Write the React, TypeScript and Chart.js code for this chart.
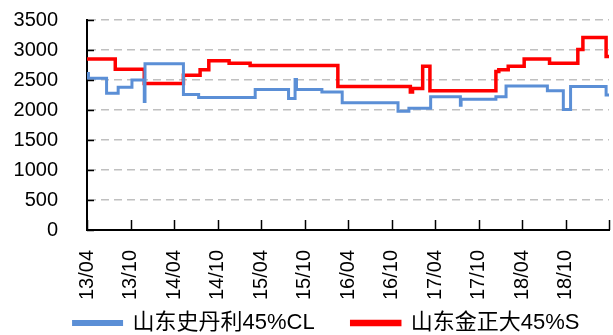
import React, { useEffect, useRef } from 'react';
import { Chart, registerables } from 'chart.js';

Chart.register(...registerables);

// x tick labels, one every 6 months starting at 2013-04
const xTickLabels = ['13/04', '13/10', '14/04', '14/10', '15/04', '15/10', '16/04', '16/10', '17/04', '17/10', '18/04', '18/10'];
const seriesNames = ['山东史丹利45%CL', '山东金正大45%S'];

// months since 2013-04 at which each price level starts (step line)
const blueMonths = [0, 0.2, 2.7, 4.3, 6.2, 7.9, 8.0, 13.3, 15.4, 23.2, 27.8, 28.7, 28.9, 32.4, 35.2, 42.9, 44.4, 47.4, 51.5, 51.6, 56.4, 57.8, 63.5, 65.7, 66.7, 71.6, 72];
const blueValues = [2610, 2530, 2280, 2380, 2500, 2140, 2770, 2260, 2210, 2340, 2190, 2510, 2340, 2300, 2120, 1980, 2030, 2220, 2080, 2180, 2220, 2400, 2320, 2010, 2390, 2250, 2250];

const redMonths = [0, 3.9, 7.9, 13.3, 15.6, 16.8, 19.6, 22.5, 34.6, 44.6, 44.9, 46.3, 47.3, 56.4, 56.8, 58.1, 60.3, 63.8, 67.7, 68.4, 71.6, 72];
const redValues = [2850, 2680, 2440, 2580, 2670, 2820, 2780, 2740, 2390, 2300, 2360, 2730, 2320, 2640, 2670, 2730, 2850, 2780, 3010, 3210, 2890, 2890];

const yMin = 0;
const yMax = 3500;
const yStep = 500;
const xMax = 72;
const xStep = 6;

const FONT = "'Liberation Sans', 'Noto Sans CJK SC', sans-serif";

// short tick marks drawn inside the plot, on both axes
const innerTicks = {
  id: 'innerTicks',
  afterDraw(chart: any) {
    const sx = chart.scales.x;
    const sy = chart.scales.y;
    const ctx = chart.ctx;
    const { bottom, left } = chart.chartArea;
    ctx.save();
    ctx.strokeStyle = '#000';
    ctx.lineWidth = 1.5;
    sx.ticks.forEach((t: any) => {
      const px = Math.round(sx.getPixelForValue(t.value)) + 0.5;
      ctx.beginPath();
      ctx.moveTo(px, bottom);
      ctx.lineTo(px, bottom - 10);
      ctx.stroke();
    });
    sy.ticks.forEach((t: any) => {
      const py = Math.round(sy.getPixelForValue(t.value)) + 0.5;
      ctx.beginPath();
      ctx.moveTo(left, py);
      ctx.lineTo(left + 7, py);
      ctx.stroke();
    });
    ctx.restore();
  },
};

// let the legend row sit lower (overlapping the empty lower part of the x-label band) and a bit to the right
const legendShift = {
  id: 'legendShift',
  afterLayout(chart: any) {
    const lg = chart.legend;
    if (lg) {
      lg.top = lg.bottom - 60;
      lg.height = 60;
      lg.left = lg.left + 36;
      lg.right = lg.right + 8;
      lg.width = lg.right - lg.left;
    }
  },
};

export default function App() {
  const ref = useRef<HTMLCanvasElement | null>(null);
  useEffect(() => {
    if (!ref.current) return;
    const toPts = (xs: number[], ys: number[]) => xs.map((x, i) => ({ x, y: ys[i] }));
    const chart = new Chart(ref.current, {
      type: 'line',
      data: {
        datasets: [
          {
            label: seriesNames[0],
            data: toPts(blueMonths, blueValues),
            borderColor: '#5B8FD6',
            backgroundColor: '#5B8FD6',
            borderWidth: 3,
            pointRadius: 0,
            stepped: true,
          },
          {
            label: seriesNames[1],
            data: toPts(redMonths, redValues),
            borderColor: '#FF0000',
            backgroundColor: '#FF0000',
            borderWidth: 3.5,
            pointRadius: 0,
            stepped: true,
          },
        ],
      },
      plugins: [innerTicks, legendShift],
      options: {
        animation: false,
        responsive: false,
        devicePixelRatio: 1,
        layout: { padding: { top: 20, right: 4, left: 0, bottom: 0 } },
        plugins: {
          tooltip: { enabled: false },
          legend: {
            position: 'bottom',
            maxHeight: 33,
            labels: {
              boxWidth: 48,
              boxHeight: 3,
              padding: 37,
              color: '#000',
              font: { family: FONT, size: 22 },
            },
          },
        },
        scales: {
          x: {
            type: 'linear',
            min: 0,
            max: xMax,
            afterFit: (s: any) => {
              s.height = 72;
              s.paddingLeft = 0;
              s.paddingRight = 0;
            },
            ticks: {
              stepSize: xStep,
              autoSkip: false,
              maxRotation: 90,
              minRotation: 90,
              padding: 12,
              color: '#000',
              font: { family: FONT, size: 20 },
              callback: (v: any) => xTickLabels[Math.round(Number(v) / xStep)] ?? '',
            },
            grid: { display: false },
            border: { display: true, color: '#000', width: 2 },
          },
          y: {
            min: yMin,
            max: yMax,
            afterFit: (s: any) => {
              s.width = 87;
              s.paddingTop = 0;
              s.paddingBottom = 0;
            },
            ticks: {
              stepSize: yStep,
              padding: 29,
              color: '#000',
              font: { family: FONT, size: 20 },
              callback: (v: any) => String(v),
            },
            grid: { color: '#C0C0C0', lineWidth: 1.5, drawTicks: false },
            border: { display: true, color: '#000', width: 2, dash: [8, 5] },
          },
        },
      },
    });
    return () => chart.destroy();
  }, []);
  return (
    <canvas
      ref={ref}
      width={613}
      height={335}
      style={{ position: 'absolute', left: 0, top: 0, width: 613, height: 335 }}
    />
  );
}
